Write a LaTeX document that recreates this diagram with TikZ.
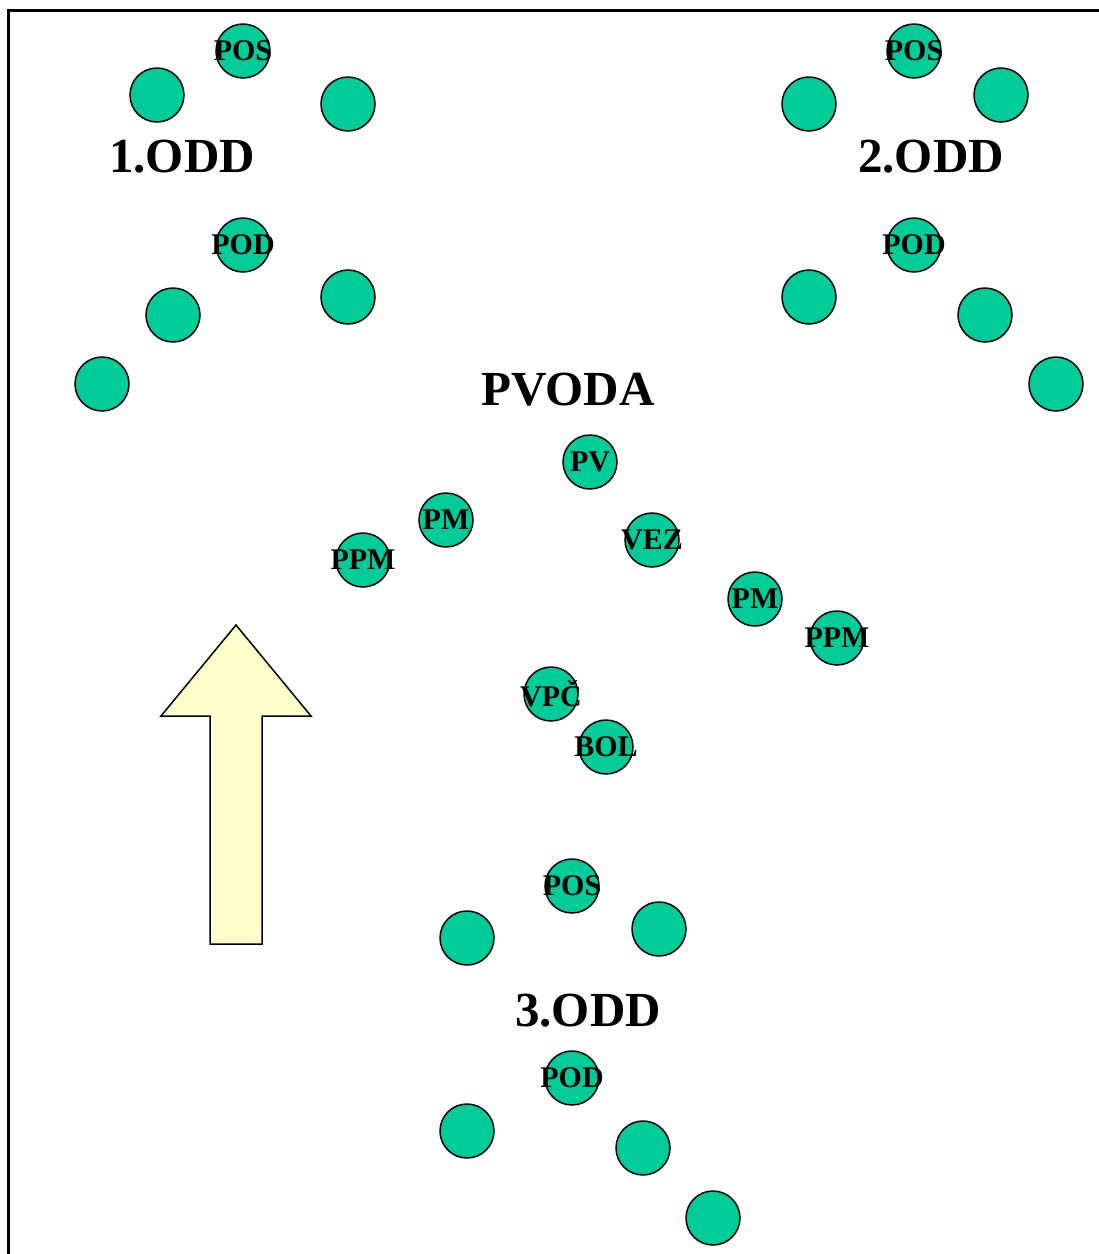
\documentclass[tikz,border=0pt]{standalone}
\usepackage{fontspec}
\setmainfont{Liberation Serif}
\usetikzlibrary{positioning}
\definecolor{grn}{RGB}{0, 204, 153}
\definecolor{ylw}{RGB}{255, 255, 204}
\tikzset{
    playernode/.style = {draw, circle, fill=grn, minimum size=54pt, inner sep=0pt, line width=1.5pt},
    roletext/.style = {inner sep=0pt, font=\fontsize{30}{30}\selectfont\bfseries},
    titlenode/.style = {draw=none, fill=none, inner sep=0pt, font=\fontsize{49}{49}\selectfont\bfseries}
}

\begin{document}
\begin{tikzpicture}[x=1pt, y=-1pt]
\useasboundingbox (0,0) rectangle (1099,1254);
\clip (0,0) rectangle (1099,1254);
\draw[line width=3.5pt] (8.5,10.5) rectangle (1200,1300);

% 1.ODD
\node[playernode, name=pos1, label={[roletext]center:POS}] at (243,51) {};
\node[playernode, name=a1] at (157,95) {};
\node[playernode, name=b1] at (348,104) {};
\node[titlenode, name=odd1] at (182,157) {1.ODD};
\node[playernode, name=pod1, label={[roletext]center:POD}] at (243,245) {};
\node[playernode, name=c1] at (348,297) {};
\node[playernode, name=d1] at (173,315) {};
\node[playernode, name=e1] at (102,384) {};

% 2.ODD
\node[playernode, name=pos2, label={[roletext]center:POS}] at (914,51) {};
\node[playernode, name=a2] at (809,104) {};
\node[playernode, name=b2] at (1001,95) {};
\node[titlenode, name=odd2] at (931,157) {2.ODD};
\node[playernode, name=pod2, label={[roletext]center:POD}] at (914,245) {};
\node[playernode, name=c2] at (809,297) {};
\node[playernode, name=d2] at (985,315) {};
\node[playernode, name=e2] at (1056,384) {};

% PVODA
\node[titlenode, name=pvoda] at (568,390) {PVODA};
\node[playernode, name=pv, label={[roletext]center:PV}] at (590,462) {};
\node[playernode, name=pmL, label={[roletext]center:PM}] at (446,520) {};
\node[playernode, name=ppmL, label={[roletext]center:PPM}] at (363,560) {};
\node[playernode, name=vez, label={[roletext]center:VEZ}] at (652,540) {};
\node[playernode, name=pmR, label={[roletext]center:PM}] at (755,599) {};
\node[playernode, name=ppmR, label={[roletext]center:PPM}] at (837,638) {};
\node[playernode, name=vpc, label={[roletext]center:VPČ}] at (551,694) {};
\node[playernode, name=bol, label={[roletext]center:BOL}] at (606,747) {};

% 3.ODD
\node[playernode, name=pos3, label={[roletext]center:POS}] at (572,886) {};
\node[playernode, name=a3] at (467,938) {};
\node[playernode, name=b3] at (659,929) {};
\node[titlenode, name=odd3] at (588,1011) {3.ODD};
\node[playernode, name=pod3, label={[roletext]center:POD}] at (572,1078) {};
\node[playernode, name=c3] at (467,1131) {};
\node[playernode, name=d3] at (643,1148) {};
\node[playernode, name=e3] at (713,1218) {};

% direction of play
\draw[fill=ylw, line width=1.5pt, line join=miter] (236,625) -- (311,716) -- (262,716) -- (262,944)
    -- (210,944) -- (210,716) -- (161,716) -- cycle;
\end{tikzpicture}
\end{document}
